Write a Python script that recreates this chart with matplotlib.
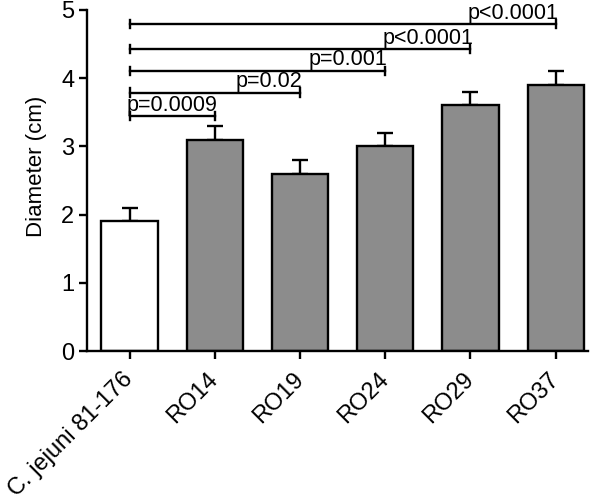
import numpy as np
import matplotlib.pyplot as plt

plt.rcParams['font.family'] = ['Liberation Sans', 'DejaVu Sans']

strains = ['C. jejuni 81-176', 'RO14', 'RO19', 'RO24', 'RO29', 'RO37']
diam = [1.9, 3.1, 2.6, 3.0, 3.6, 3.9]
err = [0.2, 0.2, 0.2, 0.2, 0.2, 0.2]
colors = ['white', '#8c8c8c', '#8c8c8c', '#8c8c8c', '#8c8c8c', '#8c8c8c']

# comparisons vs control: (target index, height, label)
comp_idx = [1, 2, 3, 4, 5]
comp_y = [3.44, 3.79, 4.11, 4.43, 4.79]
comp_txt = ['p=0.0009', 'p=0.02', 'p=0.001', 'p<0.0001', 'p<0.0001']

fig = plt.figure(figsize=(6, 5), dpi=100)
ax = fig.add_axes([0.145, 0.298, 0.835, 0.682])

x = np.arange(len(strains))
ax.bar(x, diam, width=0.66, color=colors, edgecolor='black', linewidth=1.7, zorder=2)
ax.errorbar(x, diam, yerr=[np.zeros(len(err)), err], fmt='none', ecolor='black',
            elinewidth=1.7, capsize=6, capthick=1.7, zorder=1)

for j, yy, t in zip(comp_idx, comp_y, comp_txt):
    ax.plot([0, j], [yy, yy], color='black', lw=1.7, clip_on=False)
    ax.plot([0, 0], [yy - 0.06, yy + 0.06], color='black', lw=1.7, clip_on=False)
    ax.plot([j, j], [yy - 0.06, yy + 0.06], color='black', lw=1.7, clip_on=False)
    ax.text(j + 0.03, yy + 0.005, t, ha='right', va='bottom', fontsize=15.5)

ax.set_xlim(-0.5, 5.38)
ax.set_ylim(0, 5)
ax.set_yticks([0, 1, 2, 3, 4, 5])
ax.set_xticks(x)
ax.set_xticklabels(strains, rotation=45, ha='right', va='center',
                   rotation_mode='anchor', fontsize=17)
ax.tick_params(axis='y', labelsize=17, width=1.7, length=6, pad=3)
ax.tick_params(axis='x', width=1.7, length=6, pad=12)
ax.set_ylabel('Diameter (cm)', fontsize=16)
ax.yaxis.set_label_coords(-0.08, 0.54)
for s in ['top', 'right']:
    ax.spines[s].set_visible(False)
for s in ['left', 'bottom']:
    ax.spines[s].set_linewidth(1.7)

fig.savefig('out.png', dpi=100)
